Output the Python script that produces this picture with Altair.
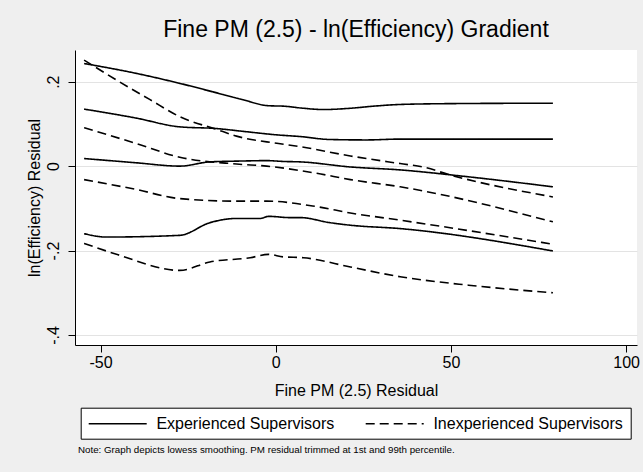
import altair as alt
import pandas as pd

FONT = "Liberation Sans"

# ---- data ----
groups = ["Experienced Supervisors", "Inexperienced Supervisors"]

exp1_x = [-54.7, -40, -27.4, -18, -9.3, -2.1, 2.2, 7.9, 13.6, 21.3, 28, 35.5, 50, 79.1]
exp1_y = [0.243, 0.220, 0.196, 0.176, 0.157, 0.143, 0.142, 0.137, 0.134, 0.137, 0.142, 0.146, 0.148, 0.149]

exp2_x = [-54.7, -40, -27.4, -17, -9, 0.3, 7, 15.5, 26, 35.5, 79.1]
exp2_y = [0.135, 0.114, 0.093, 0.089, 0.082, 0.074, 0.070, 0.063, 0.062, 0.064, 0.064]

exp3_x = [-54.7, -40, -27.4, -18.8, -10, -2.6, 2.2, 7, 21.3, 35.5, 54.6, 79.1]
exp3_y = [0.018, 0.008, 0.000, 0.010, 0.012, 0.013, 0.011, 0.010, -0.002, -0.009, -0.025, -0.049]

exp4_x = [-54.7, -48.4, -27.4, -18.8, -11.2, -4.5, -2.1, 4.1, 7, 15.5, 21.3, 35.5, 79.1]
exp4_y = [-0.160, -0.168, -0.164, -0.134, -0.124, -0.124, -0.119, -0.122, -0.122, -0.134, -0.140, -0.148, -0.201]

inx1_x = [-54.7, -45.5, -36, -27.4, -16.9, -11.2, 0.3, 7, 21.3, 35.5, 42, 49.8, 79.1]
inx1_y = [0.251, 0.204, 0.158, 0.117, 0.087, 0.071, 0.054, 0.046, 0.024, 0.006, -0.002, -0.021, -0.073]

inx2_x = [-54.7, -40, -27.4, -11.2, -2.6, 11.7, 21.3, 35.5, 79.1]
inx2_y = [0.091, 0.054, 0.021, 0.005, 0.000, -0.017, -0.032, -0.049, -0.132]

inx3_x = [-54.7, -40, -27.4, -11.2, -2.6, 11.7, 21.3, 35.5, 79.1]
inx3_y = [-0.032, -0.055, -0.077, -0.083, -0.083, -0.096, -0.111, -0.128, -0.185]

inx4_x = [-54.7, -45, -27.4, -18.8, -7.3, -2.1, 2.2, 7.9, 21.3, 35.5, 55, 79.1]
inx4_y = [-0.183, -0.210, -0.247, -0.227, -0.217, -0.209, -0.215, -0.217, -0.239, -0.262, -0.282, -0.300]

x_ticks = [-50, 0, 50, 100]
y_ticks = [-0.4, -0.2, 0, 0.2]

note = "Note: Graph depicts lowess smoothing. PM residual trimmed at 1st and 99th percentile."

series = [
    ("e1", groups[0], exp1_x, exp1_y),
    ("e2", groups[0], exp2_x, exp2_y),
    ("e3", groups[0], exp3_x, exp3_y),
    ("e4", groups[0], exp4_x, exp4_y),
    ("i1", groups[1], inx1_x, inx1_y),
    ("i2", groups[1], inx2_x, inx2_y),
    ("i3", groups[1], inx3_x, inx3_y),
    ("i4", groups[1], inx4_x, inx4_y),
]
rows = []
for sid, grp, xs, ys in series:
    for xv, yv in zip(xs, ys):
        rows.append({"x": xv, "y": yv, "series": sid, "group": grp})
df = pd.DataFrame(rows)

lines = alt.Chart(df).mark_line(color="black", strokeWidth=1.6, interpolate="monotone").encode(
    x=alt.X("x:Q",
            scale=alt.Scale(domain=[-57.3, 103.1], nice=False, zero=False),
            axis=alt.Axis(values=x_ticks, title="Fine PM (2.5) Residual", grid=False,
                          labelExpr="datum.value < 0 ? '-' + format(abs(datum.value), 'd') : format(datum.value, 'd')",
                          labelPadding=2, titlePadding=12)),
    y=alt.Y("y:Q",
            scale=alt.Scale(domain=[-0.4237, 0.275], nice=False, zero=False),
            axis=alt.Axis(values=y_ticks, title="ln(Efficiency) Residual", grid=True,
                          labelAngle=-90, labelAlign="center", labelBaseline="bottom",
                          labelExpr="datum.value == 0 ? '0' : (datum.value < 0 ? '-' : '') + '.' + format(abs(datum.value) * 10, 'd')",
                          labelPadding=7, titlePadding=3)),
    strokeDash=alt.StrokeDash("group:N",
                              scale=alt.Scale(domain=groups, range=[[1, 0], [9, 5]]),
                              legend=alt.Legend(title=None, orient="none", legendX=5.7, legendY=357.7,
                                                direction="horizontal", fillColor="white",
                                                strokeColor="black", padding=7,
                                                symbolType="M-1,0H6.25", symbolSize=256,
                                                symbolStrokeWidth=1.6, symbolStrokeColor="black",
                                                labelFontSize=16, labelFont=FONT, labelColor="black",
                                                labelOffset=50.7, columnPadding=27, labelLimit=400)),
    detail="series:N",
)

note_layer = alt.Chart(pd.DataFrame({"t": [note]})).mark_text(
    align="left", baseline="middle", fontSize=9.75, font=FONT, color="black"
).encode(text="t:N", x=alt.value(3), y=alt.value(400))

chart = alt.layer(lines, note_layer).properties(
    width=562, height=295,
    title=alt.TitleParams("Fine PM (2.5) - ln(Efficiency) Gradient", fontSize=23, font=FONT,
                          fontWeight="normal", anchor="middle", frame="group", offset=8, dy=18,
                          baseline="alphabetic", color="black"),
    autosize=alt.AutoSizeParams(type="none"),
    padding={"left": 75, "top": 50, "right": 6, "bottom": 127},
    background="#efefef",
).configure_view(fill="white", strokeWidth=0).configure_axis(
    domainColor="black", domainWidth=1, tickColor="black", tickSize=7,
    labelFont=FONT, titleFont=FONT, labelFontSize=16, titleFontSize=16,
    titleFontWeight="normal", labelColor="black", titleColor="black",
    gridColor="#e3e3e3", gridWidth=1.2,
)

chart.save("out.html", embed_options={"renderer": "svg", "actions": False})
